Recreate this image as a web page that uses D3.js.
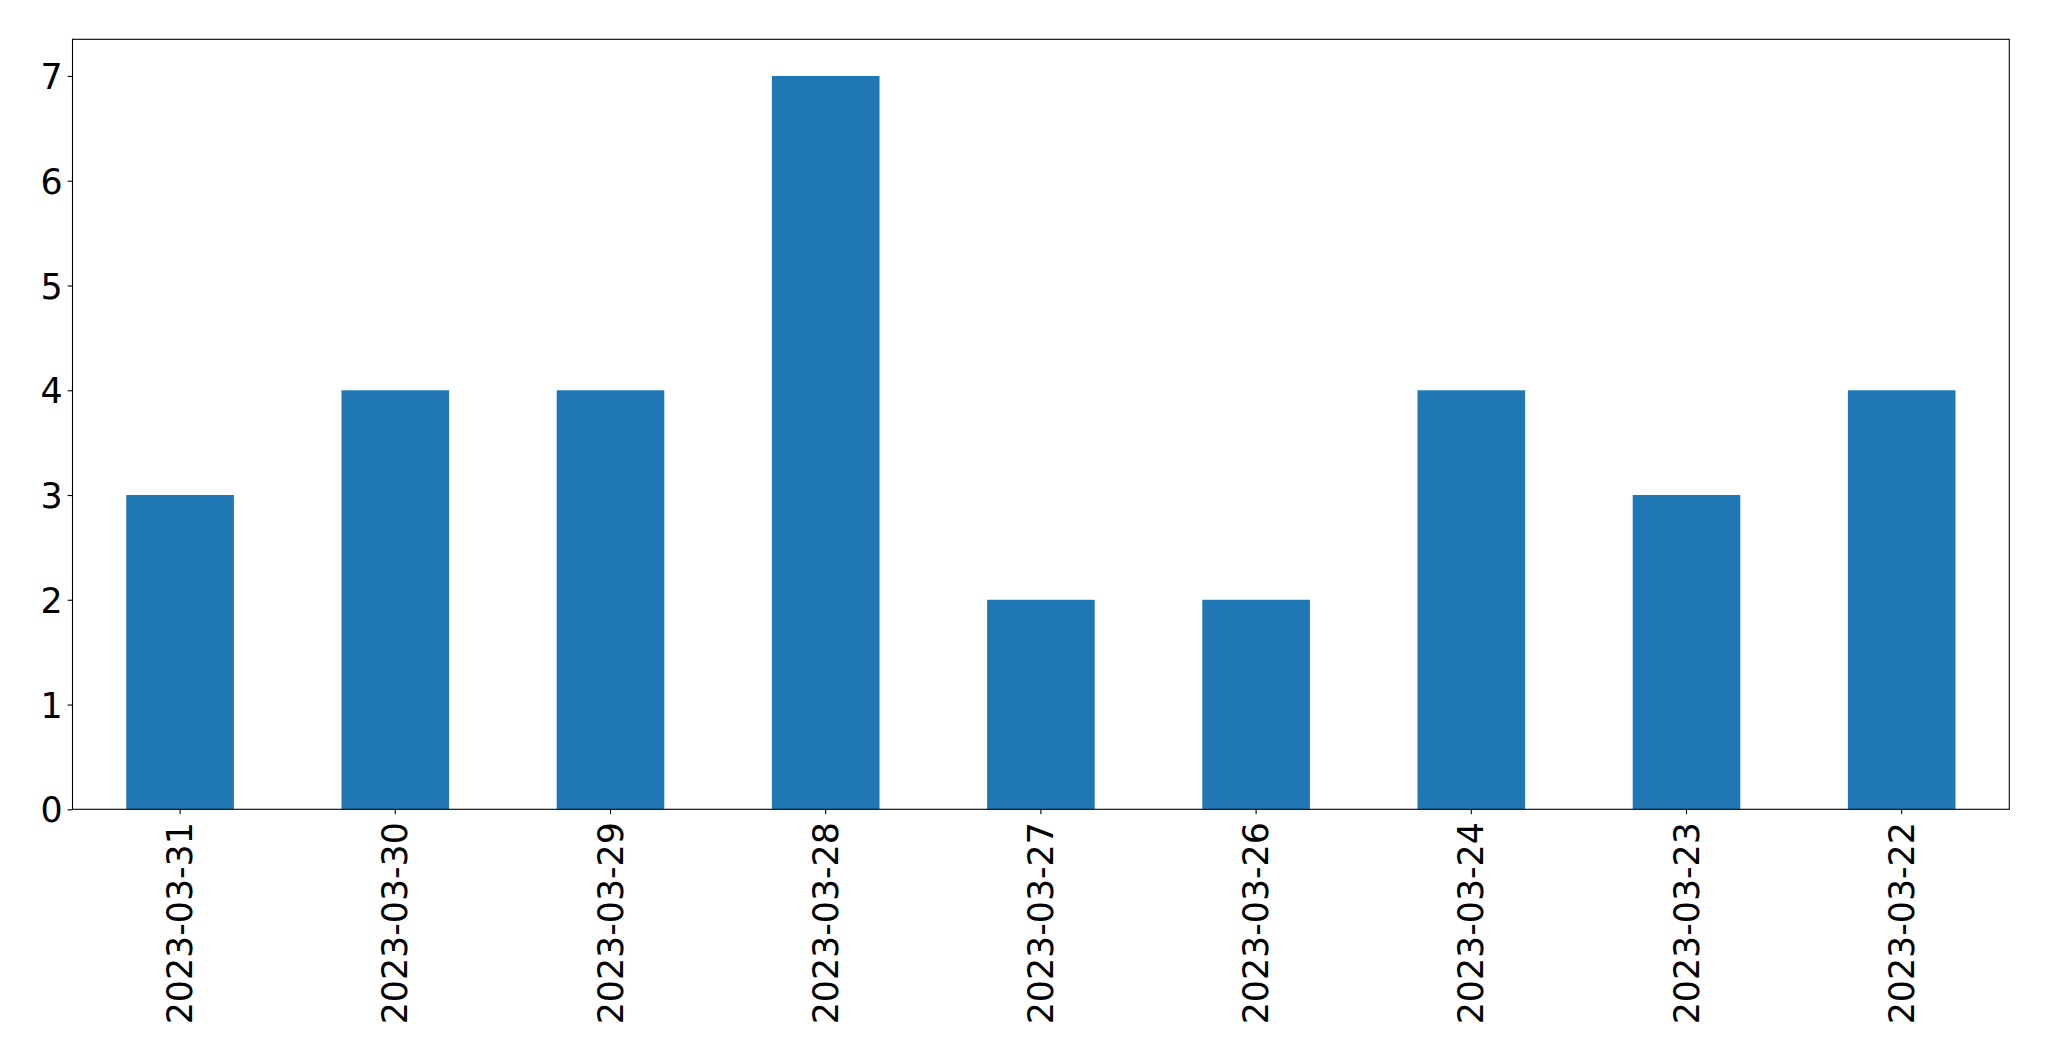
<!DOCTYPE html>
<html>
<head>
<meta charset="utf-8">
<script src="https://cdn.jsdelivr.net/npm/d3@7"></script>
<style>
  html, body { margin: 0; padding: 0; background: #fff; }
  svg { display: block; }
  text { font-family: "DejaVu Sans", sans-serif; }
</style>
</head>
<body>
<svg id="chart" width="2049" height="1061"></svg>
<script>
const categories = ["2023-03-31","2023-03-30","2023-03-29","2023-03-28","2023-03-27","2023-03-26","2023-03-24","2023-03-23","2023-03-22"];
const values = [3, 4, 4, 7, 2, 2, 4, 3, 4];
const yTicks = [0, 1, 2, 3, 4, 5, 6, 7];

const W = 2049, H = 1061;
const margin = {left: 72.5, right: W - 2009.3, top: 39.3, bottom: H - 809.3};
const iw = W - margin.left - margin.right;
const ih = H - margin.top - margin.bottom;
const fontSize = 34.8;
const tickLen = 4.9, tickPad = 4.9;

const svg = d3.select("#chart");
const g = svg.append("g").attr("transform", `translate(${margin.left},${margin.top})`);

const x = d3.scaleBand().domain(categories).range([0, iw]).paddingInner(0.5).paddingOuter(0.25);
const yMax = d3.max(values) * 1.05;
const y = d3.scaleLinear().domain([0, yMax]).range([ih, 0]);

g.selectAll("rect.bar").data(categories).join("rect")
  .attr("class", "bar")
  .attr("x", d => x(d))
  .attr("width", x.bandwidth())
  .attr("y", (d, i) => y(values[i]))
  .attr("height", (d, i) => y(0) - y(values[i]))
  .attr("fill", "#1f77b4");

// Y axis
const yAxis = g.append("g")
  .call(d3.axisLeft(y).tickValues(yTicks).tickFormat(d3.format("d")).tickSize(tickLen).tickPadding(tickPad));
yAxis.select(".domain").remove();
yAxis.selectAll(".tick line").attr("stroke", "#000").attr("stroke-width", 1.1);
yAxis.selectAll(".tick text").attr("font-size", fontSize).attr("fill", "#000")
  .attr("font-family", "DejaVu Sans, sans-serif").attr("dy", "0.36em");

// X axis
const xAxis = g.append("g").attr("transform", `translate(0,${ih})`)
  .call(d3.axisBottom(x).tickSize(tickLen).tickPadding(tickPad));
xAxis.select(".domain").remove();
xAxis.selectAll(".tick line").attr("stroke", "#000").attr("stroke-width", 1.1);
xAxis.selectAll(".tick text")
  .attr("font-size", fontSize).attr("fill", "#000")
  .attr("font-family", "DejaVu Sans, sans-serif")
  .attr("text-anchor", "end")
  .attr("transform", `translate(0,${tickLen + tickPad + 3}) rotate(-90)`)
  .attr("x", 0).attr("y", 0).attr("dy", "0.35em");

// Frame
g.append("rect").attr("x", 0).attr("y", 0).attr("width", iw).attr("height", ih)
  .attr("fill", "none").attr("stroke", "#000").attr("stroke-width", 1.1);
</script>
</body>
</html>
